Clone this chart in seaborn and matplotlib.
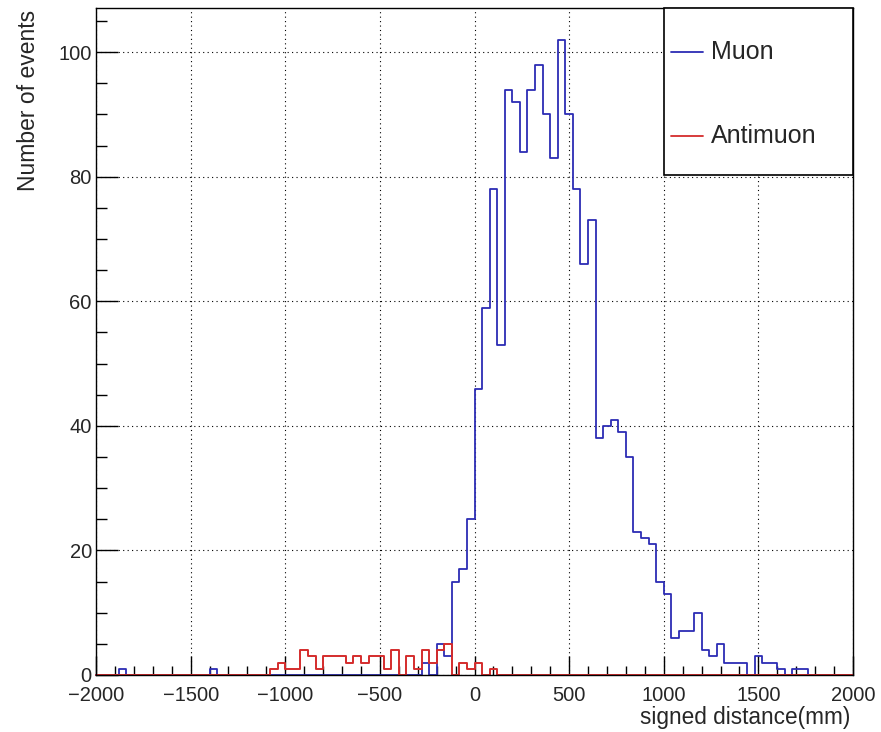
import numpy as np
import pandas as pd
import matplotlib
matplotlib.use("Agg")
import matplotlib.pyplot as plt
from matplotlib.patches import Rectangle
from matplotlib.ticker import MultipleLocator
import seaborn as sns

# ---------------- data (100 bins of 40 mm from -2000 to 2000) ----------------
bin_edges = [float(v) for v in np.arange(-2000, 2001, 40)]

muon_counts = [
    0, 0, 0, 1, 0, 0, 0, 0, 0, 0,
    0, 0, 0, 0, 0, 1, 0, 0, 0, 0,
    0, 0, 0, 0, 0, 0, 0, 0, 0, 0,
    0, 0, 0, 0, 0, 0, 0, 0, 0, 0,
    0, 0, 0, 2, 0, 5, 3, 15, 17, 25,
    46, 59, 78, 53, 94, 92, 84, 94, 98, 90,
    83, 102, 90, 78, 66, 73, 38, 40, 41, 39,
    35, 23, 22, 21, 15, 13, 6, 7, 7, 10,
    4, 3, 5, 2, 2, 2, 0, 3, 2, 2,
    1, 0, 1, 1, 0, 0, 0, 0, 0, 0,
]

antimuon_counts = [
    0, 0, 0, 0, 0, 0, 0, 0, 0, 0,
    0, 0, 0, 0, 0, 0, 0, 0, 0, 0,
    0, 0, 0, 1, 2, 1, 1, 4, 3, 1,
    3, 3, 3, 2, 3, 2, 3, 3, 1, 4,
    0, 3, 1, 4, 2, 4, 5, 0, 2, 1,
    2, 0, 1, 0, 0, 0, 0, 0, 0, 0,
    0, 0, 0, 0, 0, 0, 0, 0, 0, 0,
    0, 0, 0, 0, 0, 0, 0, 0, 0, 0,
    0, 0, 0, 0, 0, 0, 0, 0, 0, 0,
    0, 0, 0, 0, 0, 0, 0, 0, 0, 0,
]

series_labels = ["Muon", "Antimuon"]
x_label = "signed distance(mm)"
y_label = "Number of events"

# ---------------- style ----------------
sns.set_style("ticks")
plt.rcParams["font.family"] = ["Liberation Sans", "DejaVu Sans"]
plt.rcParams["axes.unicode_minus"] = True

BLUE = "#2c2cb4"
RED = "#d42c2c"

edges_arr = np.array(bin_edges)
centers = (edges_arr[:-1] + edges_arr[1:]) / 2
df = pd.DataFrame({"pos": centers,
                   "muon": np.array(muon_counts, dtype=float),
                   "antimuon": np.array(antimuon_counts, dtype=float)})

fig = plt.figure(figsize=(8.81, 7.32), dpi=100)
W, H = 881, 732
ax = fig.add_axes([96 / W, 57 / H, 757 / W, 667 / H])
ax.set_facecolor("white")

sns.histplot(x=df["pos"], weights=df["muon"], bins=bin_edges, element="step",
             fill=False, color=BLUE, linewidth=1.3, ax=ax)
sns.histplot(x=df["pos"], weights=df["antimuon"], bins=bin_edges, element="step",
             fill=False, color=RED, linewidth=1.4, ax=ax)
for ln in ax.lines:
    ln.set_clip_on(False)
    ln.set_zorder(3)

ax.set_xlim(-2000, 2000)
ax.set_ylim(0, 107.1)

ax.xaxis.set_major_locator(MultipleLocator(500))
ax.xaxis.set_minor_locator(MultipleLocator(100))
ax.yaxis.set_major_locator(MultipleLocator(20))
ax.yaxis.set_minor_locator(MultipleLocator(5))

ax.tick_params(axis="x", which="major", direction="in", length=13.5, width=1.0,
               labelsize=14.5, pad=8, top=False, color="black")
ax.tick_params(axis="x", which="minor", direction="in", length=6.8, width=1.0,
               top=False, color="black")
ax.tick_params(axis="y", which="major", direction="in", length=15.5, width=1.0,
               labelsize=14.5, pad=3, right=False, color="black")
ax.tick_params(axis="y", which="minor", direction="in", length=8, width=1.0,
               right=False, color="black")
for lbl in ax.get_yticklabels():
    lbl.set_verticalalignment("center_baseline")

ax.grid(True, which="major", linestyle=(0, (1, 3)), color="black", linewidth=0.8)
ax.set_axisbelow(True)

for sp in ax.spines.values():
    sp.set_visible(True)
    sp.set_color("black")
    sp.set_linewidth(1.0)
    sp.set_zorder(4)

ax.set_ylabel(y_label, fontsize=16.5, loc="top")
ax.yaxis.set_label_coords(-0.074, 0.997)
ax.set_xlabel(x_label, fontsize=16.3, loc="right")
ax.xaxis.set_label_coords(0.996, -0.046)

# ---------------- legend box (ROOT style) ----------------
box = Rectangle((0.75, 0.75), 0.25, 0.25, transform=ax.transAxes,
                facecolor="white", edgecolor="black", linewidth=1.2,
                zorder=10, clip_on=False)
ax.add_patch(box)
legend_y = [0.934, 0.808]
for lab, col, yy in zip(series_labels, [BLUE, RED], legend_y):
    ax.plot([0.7596, 0.8018], [yy, yy], transform=ax.transAxes, color=col,
            linewidth=1.3, zorder=11, clip_on=False)
    ax.text(0.8124, yy, lab, transform=ax.transAxes, fontsize=18,
            ha="left", va="center", zorder=11)

fig.savefig("out.png", dpi=100, facecolor="white")
